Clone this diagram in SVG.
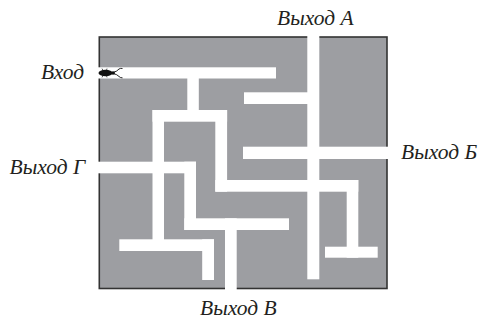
<svg xmlns="http://www.w3.org/2000/svg" width="478" height="320" viewBox="0 0 478 320">
<style>
.frame{fill:#9d9ea2;stroke:#333;stroke-width:1.6}
.path{fill:#fff}
.lbl{font-family:"Liberation Serif","DejaVu Serif",serif;font-style:italic;font-size:21.5px;fill:#231f20}
</style>
<rect width="478" height="320" fill="#fff"/>
<g id="maze">
<rect class="frame" x="99.3" y="37" width="287.7" height="251.5"/>
<g id="corridors">
<rect class="path" x="97" y="67.3" width="179" height="11.2"/>
<rect class="path" x="187.3" y="77" width="11.5" height="34"/>
<rect class="path" x="152.5" y="110" width="74.6" height="11.7"/>
<rect class="path" x="152.5" y="110" width="11.5" height="141"/>
<rect class="path" x="119.3" y="239.3" width="94.7" height="11.7"/>
<rect class="path" x="202.2" y="239.3" width="11.8" height="40.7"/>
<rect class="path" x="215.3" y="110" width="11.8" height="81.7"/>
<rect class="path" x="215.3" y="180" width="143" height="11.7"/>
<rect class="path" x="346.7" y="180" width="11.6" height="77.7"/>
<rect class="path" x="325" y="246.7" width="52.7" height="11"/>
<rect class="path" x="307.3" y="34" width="12" height="245.3"/>
<rect class="path" x="244" y="92.3" width="64" height="11.7"/>
<rect class="path" x="243" y="146.7" width="147" height="12.3"/>
<rect class="path" x="97" y="161.7" width="99" height="11.6"/>
<rect class="path" x="184.3" y="161.7" width="11.7" height="68.3"/>
<rect class="path" x="184.3" y="218.3" width="104.7" height="11.7"/>
<rect class="path" x="225" y="218.3" width="11.7" height="73"/>
</g>
</g>
<g id="bug" fill="#111" stroke="#111">
<ellipse cx="105.5" cy="73" rx="7" ry="3.3" stroke="none"/>
<ellipse cx="113" cy="73" rx="2" ry="1.8" stroke="none"/>
<path d="M113.5 72.3 Q117 71.5 119 69 Q120.5 68 122.5 68.5" fill="none" stroke-width="0.9"/>
<path d="M113.5 73.6 Q117 74.3 119 76.5 Q120.5 78 122.5 77.8" fill="none" stroke-width="0.9"/>
<path d="M103 70.5 L102 68.6 M106.5 70.3 L107 68.6 M103 75.5 L102 77.4 M106.5 75.7 L107 77.4" fill="none" stroke-width="0.7"/>
</g>
<g id="labels">
<text class="lbl" x="41" y="78.5">Вход</text>
<text class="lbl" x="9.5" y="173.5">Выход Г</text>
<text class="lbl" x="277" y="25">Выход А</text>
<text class="lbl" x="401" y="158.5">Выход Б</text>
<text class="lbl" x="200" y="315">Выход В</text>
</g>
</svg>
